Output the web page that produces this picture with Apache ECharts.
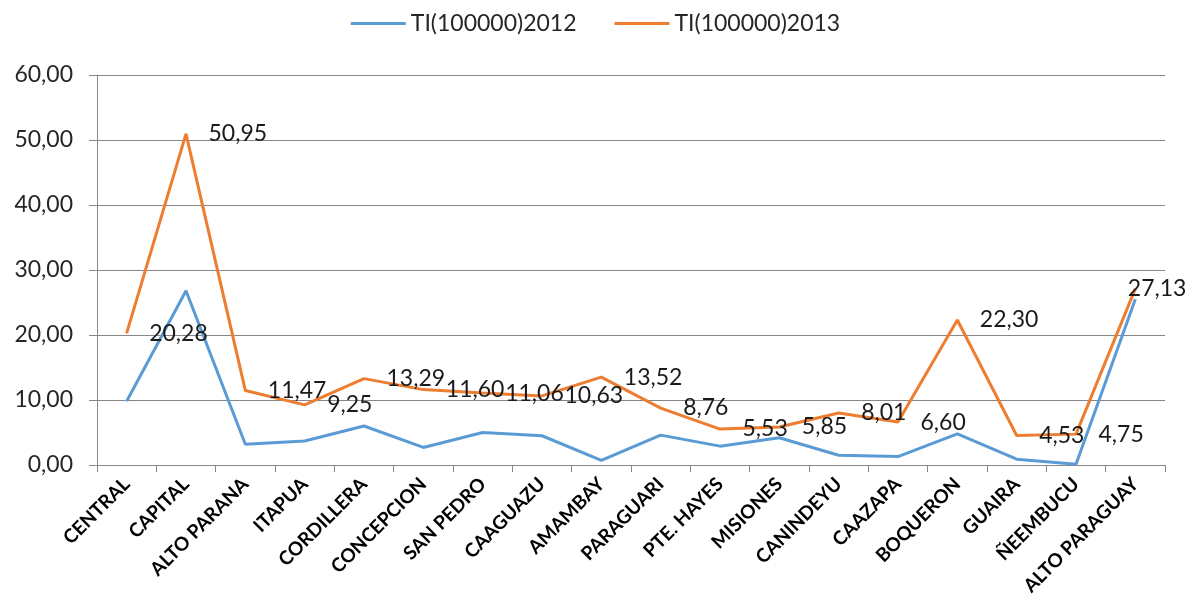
<!DOCTYPE html>
<html>
<head>
<meta charset="utf-8">
<script src="https://cdn.jsdelivr.net/npm/echarts@6/dist/echarts.min.js"></script>
<style>
html,body{margin:0;padding:0;background:#fff;}
#chart{width:1191px;height:604px;}
</style>
</head>
<body>
<div id="chart"></div>
<script>
const categories = ["CENTRAL","CAPITAL","ALTO PARANA","ITAPUA","CORDILLERA","CONCEPCION","SAN PEDRO","CAAGUAZU","AMAMBAY","PARAGUARI","PTE. HAYES","MISIONES","CANINDEYU","CAAZAPA","BOQUERON","GUAIRA","ÑEEMBUCU","ALTO PARAGUAY"];
const seriesNames = ["TI(100000)2012","TI(100000)2013"];
const values2012 = [9.8,26.8,3.2,3.7,6.0,2.7,5.0,4.5,0.7,4.6,2.9,4.2,1.5,1.3,4.8,0.9,0.1,25.5];
const values2013 = [20.28,50.95,11.47,9.25,13.29,11.60,11.06,10.63,13.52,8.76,5.53,5.85,8.01,6.60,22.30,4.53,4.75,27.13];
const yTicks = [0,10,20,30,40,50,60];

const fmt = v => Number(v).toFixed(2).replace('.', ',');
const FONT = 'Lato, "Open Sans", sans-serif';

const chart = echarts.init(document.getElementById('chart'), null, {renderer:'canvas'});
const lastIdx = values2013.length - 1;
chart.setOption({
  animation: false,
  backgroundColor: '#ffffff',
  legend: {
    top: 7,
    left: 'center',
    itemWidth: 55,
    itemHeight: 3,
    itemGap: 38,
    icon: 'rect',
    textStyle: {fontFamily: FONT, fontSize: 23, color: '#262626'},
    data: seriesNames
  },
  grid: {left: 97, right: 26, top: 75, bottom: 139, containLabel: false},
  xAxis: {
    type: 'category',
    data: categories,
    boundaryGap: true,
    axisLine: {show: true, lineStyle: {color: '#868686', width: 1}},
    axisTick: {show: true, length: 7, alignWithLabel: false, lineStyle: {color: '#868686'}},
    axisLabel: {rotate: 45, interval: 0, fontFamily: FONT, fontWeight: 'bold', fontSize: 19, color: '#000', margin: 16}
  },
  yAxis: {
    type: 'value',
    min: yTicks[0],
    max: yTicks[yTicks.length-1],
    interval: 10,
    axisLine: {show: true, lineStyle: {color: '#868686', width: 1}},
    axisTick: {show: true, length: 8, lineStyle: {color: '#868686'}},
    splitLine: {show: true, lineStyle: {color: '#868686', width: 1}},
    axisLabel: {formatter: v => fmt(v), fontFamily: FONT, fontSize: 23, color: '#262626', margin: 24}
  },
  series: [
    {
      name: seriesNames[0],
      type: 'line',
      data: values2012,
      symbol: 'none',
      lineStyle: {color: '#5B9BD5', width: 3},
      itemStyle: {color: '#5B9BD5'},
      z: 2
    },
    {
      name: seriesNames[1],
      type: 'line',
      data: values2013,
      symbol: 'circle',
      symbolSize: 1,
      showSymbol: true,
      lineStyle: {color: '#ED7D31', width: 3},
      itemStyle: {color: '#ED7D31'},
      label: {
        show: true,
        position: 'right',
        distance: 22,
        formatter: p => fmt(p.value),
        fontFamily: FONT,
        fontSize: 23,
        color: '#1a1a1a'
      },
      labelLayout: p => (p.dataIndex === lastIdx ? {dx: -30} : {}),
      z: 3
    }
  ]
});
</script>
</body>
</html>
